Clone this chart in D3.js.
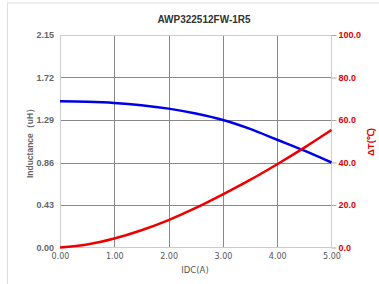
<!DOCTYPE html>
<html>
<head>
<meta charset="utf-8">
<script src="https://cdn.jsdelivr.net/npm/d3@7"></script>
<style>
  body { margin: 0; background: #fff; }
  svg { display: block; font-family: "Liberation Sans", Arial, sans-serif; }
</style>
</head>
<body>
<svg id="chart" width="379" height="284"></svg>
<script>
// Data
const currents = [0, 0.5, 1, 1.5, 2, 2.5, 3, 3.5, 4, 4.5, 5];
const inductance = [1.48, 1.475, 1.463, 1.44, 1.405, 1.355, 1.29, 1.2, 1.09, 0.98, 0.86];
const tempRise = [0, 1.4, 4.2, 8.1, 12.9, 18.6, 25, 31.8, 39.2, 47, 55.3];

const xTicks = [0, 1, 2, 3, 4, 5];
const leftTicks = [0, 0.43, 0.86, 1.29, 1.72, 2.15];
const rightTicks = [0, 20, 40, 60, 80, 100];

const title = "AWP322512FW-1R5";
const xTitle = "IDC(A)";
const leftTitle = "Inductance（uH）";
const rightTitle = "ΔT(℃)";

function whenDocumentLoaded(action) {
	if (document.readyState === "loading") {
		document.addEventListener("DOMContentLoaded", action);
	} else {
		action();
	}
}

function drawChart() {
	const svg = d3.select("#chart");

	// plot box
	const left = 60, right = 331.5, top = 35, bottom = 247.5;

	const x = d3.scaleLinear().domain([0, 5]).range([left, right]);
	const yL = d3.scaleLinear().domain([0, 2.15]).range([bottom, top]);
	const yR = d3.scaleLinear().domain([0, 100]).range([bottom, top]);

	// container frame (only top and left edges show)
	svg.append("line")
		.attr("x1", 7).attr("x2", 379).attr("y1", 3).attr("y2", 3)
		.attr("stroke", "#ddd");
	svg.append("line")
		.attr("x1", 7.5).attr("x2", 7.5).attr("y1", 3).attr("y2", 284)
		.attr("stroke", "#ddd");

	// title
	svg.append("text")
		.attr("x", 204).attr("y", 23)
		.attr("text-anchor", "middle")
		.attr("font-size", 10).attr("font-weight", "bold")
		.attr("fill", "#333")
		.text(title);

	// grid
	const grid = svg.append("g");
	grid.selectAll(".vgrid")
		.data(xTicks.slice(1, -1))
		.join("line")
		.attr("x1", (d) => Math.round(x(d)) + 0.5).attr("x2", (d) => Math.round(x(d)) + 0.5)
		.attr("y1", top).attr("y2", bottom)
		.attr("stroke", "#888");
	grid.selectAll(".hgrid")
		.data(leftTicks.slice(1, -1))
		.join("line")
		.attr("x1", left).attr("x2", right)
		.attr("y1", (d) => Math.round(yL(d)) + 0.5).attr("y2", (d) => Math.round(yL(d)) + 0.5)
		.attr("stroke", "#888");

	// top line, side lines
	svg.append("line")
		.attr("x1", left).attr("x2", right)
		.attr("y1", top + 0.5).attr("y2", top + 0.5)
		.attr("stroke", "#c0d0e0");
	svg.append("line")
		.attr("x1", left + 0.5).attr("x2", left + 0.5)
		.attr("y1", top).attr("y2", bottom)
		.attr("stroke", "#ccc");
	svg.append("line")
		.attr("x1", right).attr("x2", right)
		.attr("y1", top).attr("y2", bottom)
		.attr("stroke", "#ccc");
	svg.append("line")
		.attr("x1", left).attr("x2", right)
		.attr("y1", bottom).attr("y2", bottom)
		.attr("stroke", "#ccc");

	// axes
	const xAxis = svg.append("g")
		.attr("transform", `translate(0,${bottom})`)
		.call(d3.axisBottom(x).tickValues(xTicks).tickFormat(d3.format(".2f")).tickSize(0).tickPadding(6));
	xAxis.select(".domain").remove();
	xAxis.selectAll("text")
		.attr("font-size", 8).attr("fill", "#555")
		.attr("font-family", "DejaVu Sans, Verdana, sans-serif");

	const lAxis = svg.append("g")
		.attr("transform", `translate(${left},0)`)
		.call(d3.axisLeft(yL).tickValues(leftTicks).tickFormat(d3.format(".2f")).tickSize(0).tickPadding(6));
	lAxis.select(".domain").remove();
	lAxis.selectAll("text")
		.attr("font-size", 9).attr("font-weight", "bold").attr("fill", "#666")
		.attr("font-family", "Liberation Sans, Arial, sans-serif");

	const rAxis = svg.append("g")
		.attr("transform", `translate(${right},0)`)
		.call(d3.axisRight(yR).tickValues(rightTicks).tickFormat(d3.format(".1f")).tickSize(5).tickPadding(2));
	rAxis.select(".domain").remove();
	rAxis.selectAll("line").attr("stroke", "#aaa");
	rAxis.selectAll("text")
		.attr("font-size", 9).attr("font-weight", "bold").attr("fill", "#e00000")
		.attr("font-family", "Liberation Sans, Arial, sans-serif");

	// axis titles
	svg.append("text")
		.attr("x", 195).attr("y", 273)
		.attr("text-anchor", "middle")
		.attr("font-family", "DejaVu Sans, Verdana, sans-serif")
		.attr("font-size", 8.5).attr("fill", "#555")
		.text(xTitle);
	svg.append("text")
		.attr("transform", `translate(33,141) rotate(-90)`)
		.attr("text-anchor", "middle")
		.attr("font-size", 8.5).attr("font-weight", "bold").attr("fill", "#666")
		.text(leftTitle);
	svg.append("text")
		.attr("transform", `translate(374,142) rotate(-90)`)
		.attr("text-anchor", "middle")
		.attr("font-size", 9.5).attr("font-weight", "bold").attr("fill", "#e00000")
		.text(rightTitle);

	// series
	const lineL = d3.line()
		.x((d, i) => x(currents[i]))
		.y((d) => yL(d))
		.curve(d3.curveMonotoneX);
	const lineR = d3.line()
		.x((d, i) => x(currents[i]))
		.y((d) => yR(d))
		.curve(d3.curveMonotoneX);

	svg.append("path")
		.datum(inductance)
		.attr("d", lineL)
		.attr("fill", "none")
		.attr("stroke", "#0000e6")
		.attr("stroke-width", 2.5);
	svg.append("path")
		.datum(tempRise)
		.attr("d", lineR)
		.attr("fill", "none")
		.attr("stroke", "#ee0000")
		.attr("stroke-width", 2.5);
}

whenDocumentLoaded(drawChart);
</script>
</body>
</html>
